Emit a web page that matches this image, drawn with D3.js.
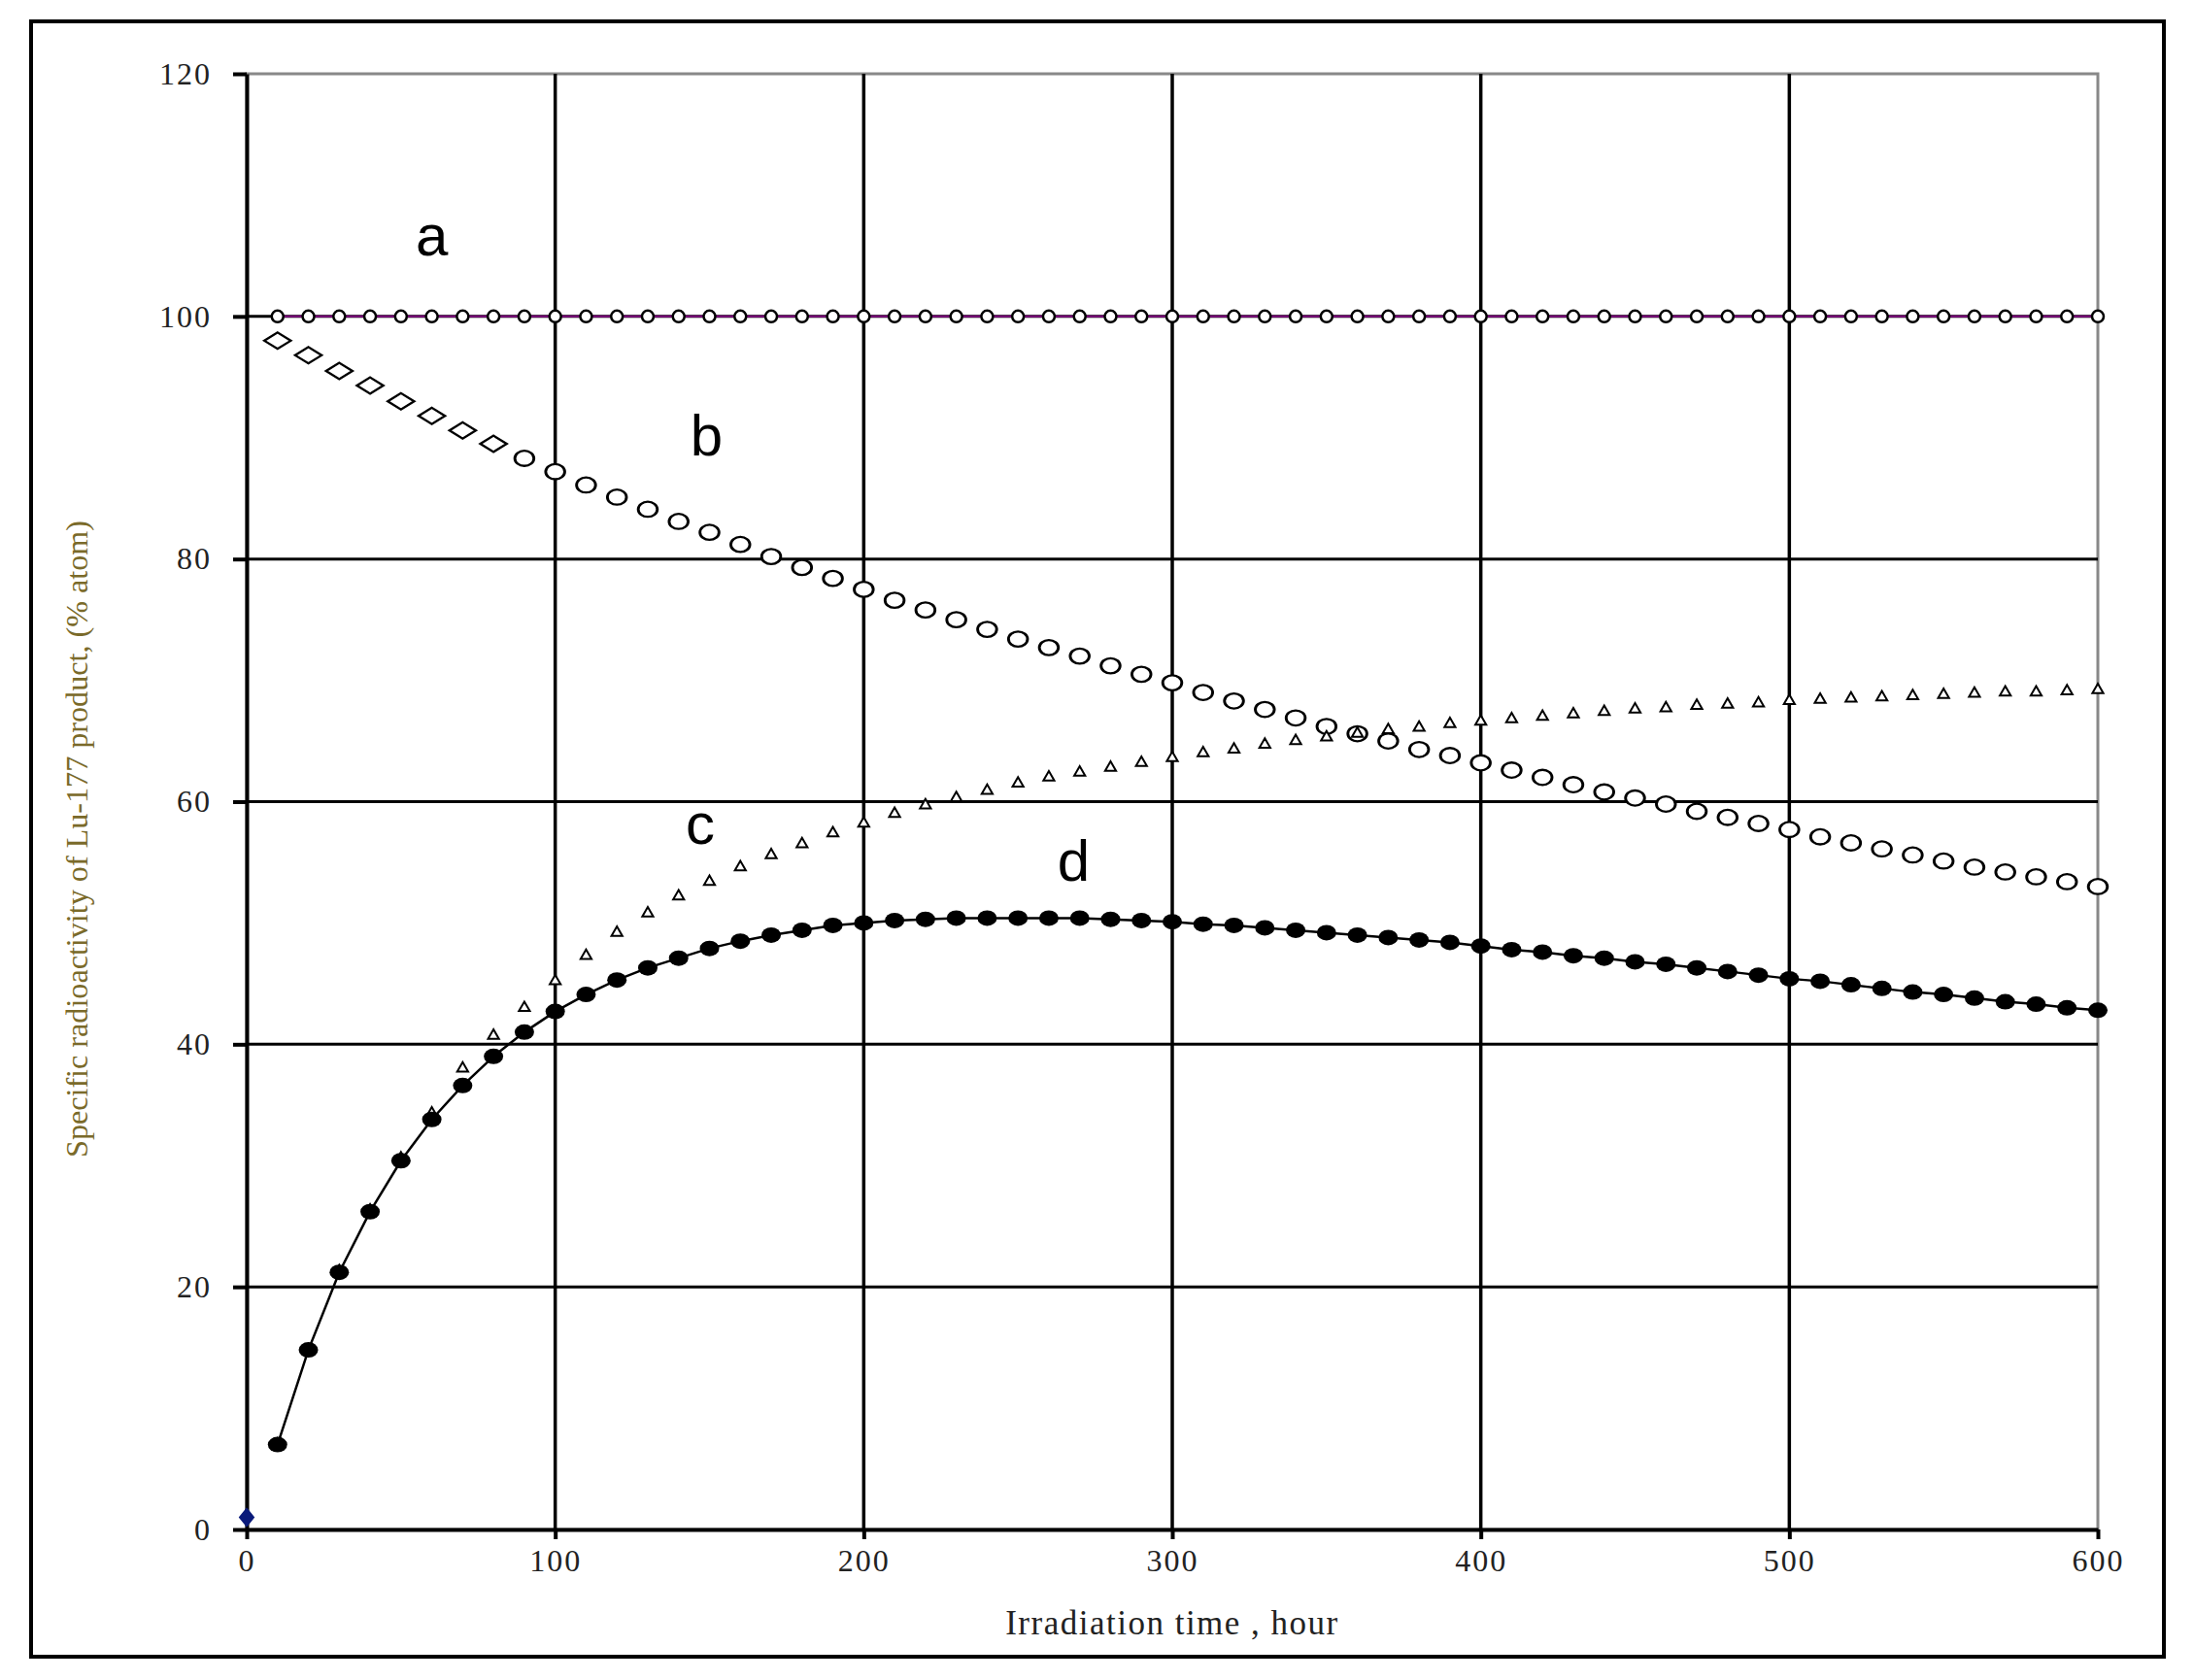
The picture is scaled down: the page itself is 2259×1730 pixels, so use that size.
<!DOCTYPE html>
<html><head><meta charset="utf-8">
<script src="https://cdn.jsdelivr.net/npm/d3@7"></script>
<style>body{margin:0;background:#fff}</style></head>
<body><svg id="c" width="2259" height="1730"></svg>
<script>
const xs = d3.range(10, 601, 10);
const seriesA = xs.map(() => 100);
const seriesB = [98,96.8,95.5,94.3,93,91.8,90.6,89.5,88.3,87.2,86.1,85.1,84.1,83.1,82.2,81.2,80.2,79.3,78.4,77.5,76.6,75.8,75,74.2,73.4,72.7,72,71.2,70.5,69.8,69,68.3,67.6,66.9,66.2,65.6,65,64.3,63.8,63.2,62.6,62,61.4,60.8,60.3,59.8,59.2,58.7,58.2,57.7,57.1,56.6,56.1,55.6,55.1,54.6,54.2,53.8,53.4,53];
const seriesC = [7,14.8,21.3,26.3,30.6,34.3,38,40.7,43,45.2,47.3,49.2,50.8,52.2,53.4,54.6,55.6,56.5,57.4,58.2,59,59.7,60.3,60.9,61.5,62,62.4,62.8,63.2,63.6,64,64.3,64.7,65,65.3,65.6,65.9,66.1,66.4,66.6,66.8,67,67.2,67.4,67.6,67.7,67.9,68,68.1,68.3,68.4,68.5,68.6,68.7,68.8,68.9,69,69,69.1,69.2];
const seriesD = [7,14.8,21.2,26.2,30.4,33.8,36.6,39,41,42.7,44.1,45.3,46.3,47.1,47.9,48.5,49,49.4,49.8,50,50.2,50.3,50.4,50.4,50.4,50.4,50.4,50.3,50.2,50.1,49.9,49.8,49.6,49.4,49.2,49,48.8,48.6,48.4,48.1,47.8,47.6,47.3,47.1,46.8,46.6,46.3,46,45.7,45.4,45.2,44.9,44.6,44.3,44.1,43.8,43.5,43.3,43,42.8];
const startPoint = [0, 1];
const xTicks = [0,100,200,300,400,500,600];
const yTicks = [0,20,40,60,80,100,120];
const labels = [{t:"a",x:60,y:105},{t:"b",x:149,y:88.5},{t:"c",x:147,y:56.5},{t:"d",x:268,y:53.5}];

const svg = d3.select("#c");
const L=254,R=2160,T=76,B=1575;
const x = d3.scaleLinear().domain([0,600]).range([L,R]);
const y = d3.scaleLinear().domain([0,120]).range([B,T]);

svg.append("rect").attr("x",32).attr("y",22).attr("width",2196).attr("height",1684).attr("fill","none").attr("stroke","#000").attr("stroke-width",4);
svg.append("rect").attr("x",L).attr("y",T).attr("width",R-L).attr("height",B-T).attr("fill","none").attr("stroke","#888").attr("stroke-width",3);

svg.append("g").selectAll("line").data(yTicks.filter(v=>v>0&&v<120)).join("line")
 .attr("x1",L).attr("x2",R).attr("y1",d=>y(d)).attr("y2",d=>y(d)).attr("stroke","#000").attr("stroke-width",3);
svg.append("g").selectAll("line").data(xTicks.filter(v=>v>0&&v<600)).join("line")
 .attr("y1",T).attr("y2",B).attr("x1",d=>x(d)).attr("x2",d=>x(d)).attr("stroke","#000").attr("stroke-width",3.5);

const xa = svg.append("g").attr("transform",`translate(0,${B})`).call(d3.axisBottom(x).tickValues(xTicks).tickSize(10).tickSizeOuter(0).tickPadding(10));
const ya = svg.append("g").attr("transform",`translate(${L},0)`).call(d3.axisLeft(y).tickValues(yTicks).tickSize(14).tickSizeOuter(0).tickPadding(22));
[xa,ya].forEach(a=>{a.selectAll("path").attr("stroke","#000").attr("stroke-width",4);
 a.selectAll("line").attr("stroke","#000").attr("stroke-width",4);
 a.selectAll("text").attr("font-family","Liberation Serif").attr("font-size",32).attr("fill","#222").attr("letter-spacing",2);});

svg.append("text").attr("x",(L+R)/2).attr("y",1683).attr("text-anchor","middle").attr("font-family","Liberation Serif").attr("font-size",35).attr("fill","#222").attr("letter-spacing",1.5).text("Irradiation time , hour");
svg.append("text").attr("transform","translate(90,864) rotate(-90)").attr("text-anchor","middle").attr("font-family","Liberation Serif").attr("font-size",32).attr("fill","#7a6a2a").attr("textLength",656).attr("lengthAdjust","spacingAndGlyphs").text("Specific radioactivity of Lu-177 product, (% atom)");

svg.append("path").datum(seriesA).attr("fill","none").attr("stroke","#800080").attr("stroke-width",2)
 .attr("d",d3.line().x((d,i)=>x(xs[i])).y(d=>y(d)));
svg.append("g").selectAll("circle").data(seriesA).join("circle").attr("cx",(d,i)=>x(xs[i])).attr("cy",d=>y(d)).attr("r",6).attr("fill","#fff").attr("stroke","#000").attr("stroke-width",2.5);
svg.append("g").selectAll("path").data(seriesB).join("path")
 .attr("d",(d,i)=> xs[i]<=80 ? d3.symbol(d3.symbolDiamond2,280)() : d3.symbol(d3.symbolCircle,210)())
 .attr("transform",(d,i)=> xs[i]<=80 ? `translate(${x(xs[i])},${y(d)}) scale(1.3,0.8)` : `translate(${x(xs[i])},${y(d)}) scale(1.2,0.95)`)
 .attr("fill","#fff").attr("stroke","#000").attr("stroke-width",2.4);
svg.append("g").selectAll("path").data(seriesC).join("path")
 .attr("transform",(d,i)=>`translate(${x(xs[i])},${y(d)})`)
 .attr("d",d3.symbol(d3.symbolTriangle2,90)).attr("fill","#fff").attr("stroke","#000").attr("stroke-width",2);
svg.append("path").datum(seriesD).attr("fill","none").attr("stroke","#000").attr("stroke-width",2.5)
 .attr("d",d3.line().x((d,i)=>x(xs[i])).y(d=>y(d)));
svg.append("g").selectAll("ellipse").data(seriesD).join("ellipse").attr("cx",(d,i)=>x(xs[i])).attr("cy",d=>y(d)).attr("rx",10).attr("ry",8).attr("fill","#000");
svg.append("path").attr("transform",`translate(${x(startPoint[0])},${y(startPoint[1])}) scale(1.4,1)`).attr("d",d3.symbol(d3.symbolDiamond,120)()).attr("fill","#0a1a7a");

svg.append("g").selectAll("text").data(labels).join("text").attr("x",d=>x(d.x)).attr("y",d=>y(d.y)).attr("text-anchor","middle")
 .attr("font-family","Liberation Sans").attr("font-size",60).attr("fill","#000").text(d=>d.t);
</script></body></html>
